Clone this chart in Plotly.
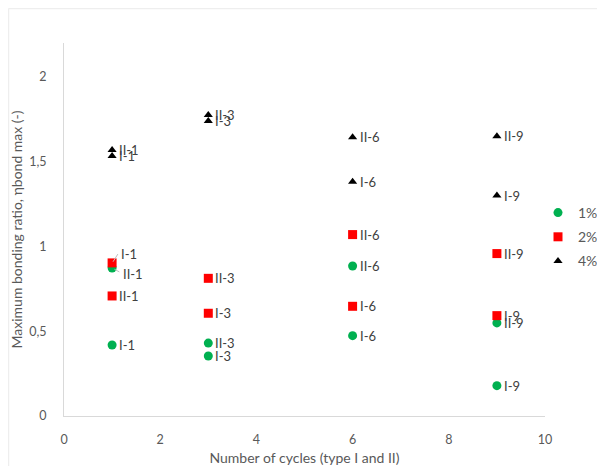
import plotly.graph_objects as go

cycles = [1, 1, 3, 3, 6, 6, 9, 9]
labels = ["I-1", "II-1", "I-3", "II-3", "I-6", "II-6", "I-9", "II-9"]

s1 = [0.419, 0.873, 0.354, 0.43, 0.474, 0.885, 0.179, 0.549]   # 1%
s2 = [0.903, 0.708, 0.606, 0.812, 0.647, 1.07, 0.592, 0.958]   # 2%
s4 = [1.534, 1.569, 1.740, 1.776, 1.382, 1.644, 1.30, 1.650]   # 4%

series = [
    ("1%", s1, "circle", "#00b050", 9),
    ("2%", s2, "square", "#ff0000", 9),
    ("4%", s4, "triangle-up", "#000000", 8),
]

# label nudges (series name, label) -> (dx, dy) in pixels
nudges = {("2%", "I-1"): (2, 9), ("1%", "II-1"): (4, -6)}

FONT = "Lato, Open Sans, sans-serif"
L, R, T, B = 56, 5, 35, 58
PW = 605 - L - R
PH = 466 - T - B
fig = go.Figure()
annotations = []
for name, vals, sym, col, sz in series:
    fig.add_trace(go.Scatter(
        x=cycles, y=vals, mode="markers", name=name, legendgroup=name,
        marker=dict(symbol=sym, color=col, size=sz),
    ))
    for xv, yv, lab in zip(cycles, vals, labels):
        dx, dy = nudges.get((name, lab), (0, 0))
        annotations.append(dict(
            x=xv, y=yv, xref="x", yref="y", text=lab, showarrow=False,
            xanchor="left", yanchor="middle", xshift=5 + dx, yshift=dy,
            font=dict(family=FONT, size=13, color="#404040"),
        ))

# leader lines for the nudged labels
shapes = [
    dict(type="line", xref="x", yref="y", x0=1.02, x1=1.12, y0=0.91, y1=0.955,
         line=dict(color="#bfbfbf", width=1)),
    dict(type="line", xref="x", yref="y", x0=1.05, x1=1.15, y0=0.865, y1=0.85,
         line=dict(color="#bfbfbf", width=1)),
    dict(type="line", xref="paper", yref="paper",
         x0=-(L - 0.5) / PW, x1=1.2, y0=1 + (T - 0.5) / PH, y1=1 + (T - 0.5) / PH,
         line=dict(color="#eeeeee", width=1.5)),
    dict(type="line", xref="paper", yref="paper",
         x0=-(L - 0.5) / PW, x1=-(L - 0.5) / PW, y0=-0.2, y1=1 + (T - 0.5) / PH,
         line=dict(color="#eeeeee", width=1.5)),
]

fig.update_layout(
    width=605, height=466,
    margin=dict(l=L, r=R, t=T, b=B, autoexpand=False),
    paper_bgcolor="white", plot_bgcolor="white",
    separators=",.",
    font=dict(family=FONT, size=12.5, color="#595959"),
    annotations=annotations,
    showlegend=True,
    legend=dict(x=(530 - L) / PW, y=1 - (189 - T) / PH, xanchor="left", yanchor="top",
                font=dict(family=FONT, size=14, color="#595959"),
                traceorder="grouped", tracegroupgap=3,
                itemwidth=30, bgcolor="rgba(0,0,0,0)"),
    xaxis=dict(domain=[0, 481 / PW], range=[0, 10], tickvals=[0, 2, 4, 6, 8, 10],
               showgrid=False, automargin=False,
               zeroline=False, showline=True, linecolor="#d9d9d9", linewidth=1,
               ticks="", ticklabelstandoff=12,
               title=dict(text="Number of cycles (type I and II)", standoff=7,
                          font=dict(family=FONT, size=14, color="#595959"))),
    yaxis=dict(range=[0, 2.2], tickvals=[0, 0.5, 1, 1.5, 2], showgrid=False,
               automargin=False,
               zeroline=False, showline=True, linecolor="#d9d9d9", linewidth=1,
               ticks="", ticklabelstandoff=14,
               title=dict(text="Maximum bonding ratio, ηbond max (-)", standoff=8,
                          font=dict(family=FONT, size=14, color="#595959"))),
    shapes=shapes,
)
fig.write_html("out.html")
